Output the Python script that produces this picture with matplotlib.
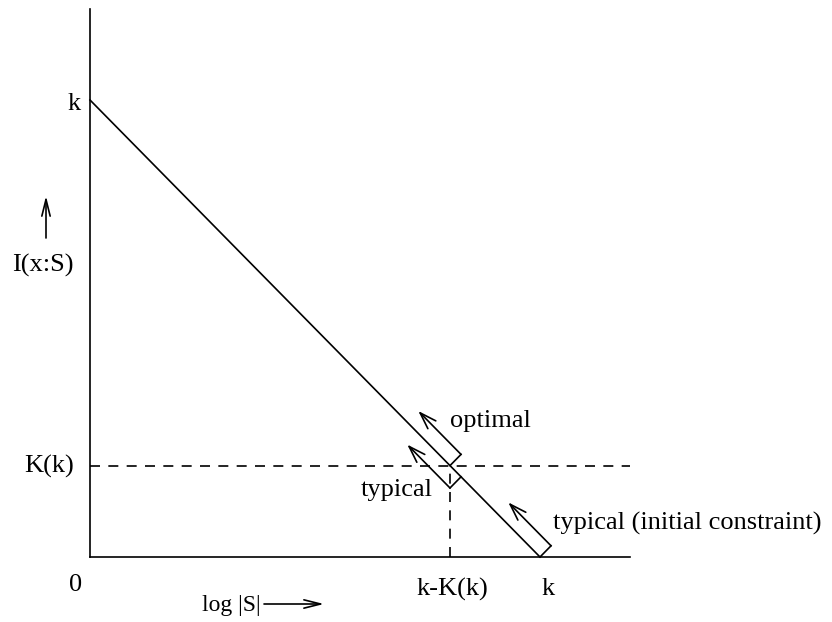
import matplotlib
matplotlib.use("Agg")
import matplotlib.pyplot as plt

# values (in units of k)
k_val = 1.0
K_of_k = 0.2
axis_max = 1.2
tick_labels_x = ["0", "k-K(k)", "k"]
tick_labels_y = ["k", "K(k)"]
xlabel = "log |S|"
ylabel = "I(x:S)"

plt.rcParams['font.family'] = ['Liberation Serif', 'DejaVu Serif']
FS = 19

fig = plt.figure(figsize=(8.32, 6.22), dpi=100)
ax = fig.add_axes([0, 0, 1, 1])
W, H = 832, 622
x0px, y0px, sx, sy = 90, 557, 450, 457
ax.set_xlim(-x0px / sx, (W - x0px) / sx)
ax.set_ylim(-(H - y0px) / sy, y0px / sy)
ax.axis('off')

lw = 1.2
# axes
ax.plot([0, 0], [0, axis_max], color='black', lw=lw)
ax.plot([0, axis_max], [0, 0], color='black', lw=lw)
# main line
ax.plot([0, k_val], [k_val, 0], color='black', lw=lw)
# dashed guides
xc = k_val - K_of_k
ax.plot([0, axis_max], [K_of_k, K_of_k], color='black', lw=lw, dashes=(6, 5))
ax.plot([xc, xc], [0, K_of_k], color='black', lw=lw, dashes=(6, 5))

# brackets with arrows
d = 0.0245
L = 0.095
arr = dict(arrowstyle='->,head_length=0.6,head_width=0.2', color='black', lw=lw,
           shrinkA=0, shrinkB=0, mutation_scale=20)

def bracket(px, py, qx, qy):
    # tick from (px,py) to (qx,qy), then arrow parallel to main line (up-left)
    ax.plot([px, qx], [py, qy], color='black', lw=lw)
    ax.annotate('', xy=(qx - L, qy + L), xytext=(qx, qy), arrowprops=arr)

bracket(xc, K_of_k, xc + d, K_of_k + d)            # optimal
bracket(xc + d, K_of_k - d, xc, K_of_k - 2 * d)    # typical
bracket(k_val, 0, k_val + d, d)                     # typical (initial constraint)

def P(x, y):
    return ((x - x0px) / sx, (y0px - y) / sy)

ax.text(*P(450, 421), "optimal", fontsize=FS, ha='left', va='center')
ax.text(*P(433, 490), "typical", fontsize=FS, ha='right', va='center')
ax.text(*P(553, 523), "typical (initial constraint)", fontsize=FS, ha='left', va='center')

# tick labels
ax.text(*P(81, 104), tick_labels_y[0], fontsize=FS, ha='right', va='center')
ax.text(*P(74, 466), tick_labels_y[1], fontsize=FS, ha='right', va='center')
ax.text(*P(76, 585), tick_labels_x[0], fontsize=FS, ha='center', va='center')
ax.text(*P(452, 589), tick_labels_x[1], fontsize=FS, ha='center', va='center')
ax.text(*P(548, 589), tick_labels_x[2], fontsize=FS, ha='center', va='center')

# axis labels with arrows
ax.text(*P(43, 265), ylabel, fontsize=FS, ha='center', va='center')
ax.annotate('', xy=P(46, 196), xytext=P(46, 238),
            arrowprops=dict(arrowstyle='->,head_length=0.6,head_width=0.15', color='black',
                            lw=lw, shrinkA=0, shrinkB=0, mutation_scale=20))
ax.text(*P(231, 605), xlabel, fontsize=FS - 2, ha='center', va='center')
ax.annotate('', xy=P(324, 604), xytext=P(264, 604),
            arrowprops=dict(arrowstyle='->,head_length=0.6,head_width=0.15', color='black',
                            lw=lw, shrinkA=0, shrinkB=0, mutation_scale=20))

fig.savefig('out.png', dpi=100)
